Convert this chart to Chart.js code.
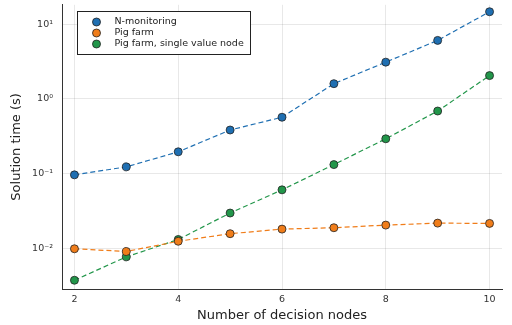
<!DOCTYPE html>
<html>
<head>
<meta charset="utf-8">
<script src="https://cdn.jsdelivr.net/npm/chart.js@4/dist/chart.umd.min.js"></script>
<style>
  html, body { margin: 0; padding: 0; background: #fff; }
  #wrap { width: 512px; height: 325px; }
</style>
</head>
<body>
<div id="wrap"><canvas id="c" width="512" height="325"></canvas></div>
<script>
// Number of decision nodes
const nodes = [2, 3, 4, 5, 6, 7, 8, 9, 10];
// Solution times in seconds
const nMonitoring = [0.097, 0.124, 0.197, 0.385, 0.57, 1.6, 3.1, 6.05, 14.6];
const pigFarm = [0.0100, 0.0092, 0.0126, 0.0159, 0.0183, 0.0191, 0.0207, 0.0220, 0.0218];
const pigFarmSingle = [0.0038, 0.0078, 0.0133, 0.0300, 0.0612, 0.133, 0.294, 0.69, 2.05];
const seriesNames = ['N-monitoring', 'Pig farm', 'Pig farm, single value node'];
const xTicks = [2, 4, 6, 8, 10];
const yTicks = [0.01, 0.1, 1, 10];
const yTickLabels = ['10\u207B\u00B2', '10\u207B\u00B9', '10\u2070', '10\u00B9'];

const colors = ['#1f6fb2', '#f07d1a', '#22964a'];
const FONT = "'DejaVu Sans', sans-serif";

function toPoints(ys) { return nodes.map((x, i) => ({ x: x, y: ys[i] })); }

function makeSet(label, ys, color) {
  return {
    label: label,
    data: toPoints(ys),
    borderColor: color,
    backgroundColor: color,
    borderWidth: 1.2,
    borderDash: [5, 3],
    pointRadius: 4,
    pointBorderWidth: 0.8,
    pointBorderColor: '#222',
    pointBackgroundColor: color,
    tension: 0,
    fill: false
  };
}

// Boxed legend in the top-left of the plot area
const boxLegend = {
  id: 'boxLegend',
  afterDraw(chart) {
    const ctx = chart.ctx;
    const x0 = 77.5, y0 = 11.5, w = 173, h = 43;
    ctx.save();
    ctx.fillStyle = '#fff';
    ctx.fillRect(x0, y0, w, h);
    ctx.strokeStyle = '#222';
    ctx.lineWidth = 1;
    ctx.strokeRect(x0, y0, w, h);
    ctx.font = '9.5px ' + FONT;
    ctx.textBaseline = 'middle';
    chart.data.datasets.forEach((ds, i) => {
      const cy = y0 + 10.5 + i * 11;
      ctx.beginPath();
      ctx.arc(x0 + 19, cy, 4, 0, Math.PI * 2);
      ctx.fillStyle = ds.backgroundColor;
      ctx.fill();
      ctx.lineWidth = 0.8;
      ctx.strokeStyle = '#222';
      ctx.stroke();
      ctx.fillStyle = '#222';
      ctx.fillText(ds.label, x0 + 37, cy);
    });
    ctx.restore();
  }
};

new Chart(document.getElementById('c'), {
  type: 'line',
  data: {
    datasets: [
      makeSet(seriesNames[0], nMonitoring, colors[0]),
      makeSet(seriesNames[1], pigFarm, colors[1]),
      makeSet(seriesNames[2], pigFarmSingle, colors[2])
    ]
  },
  options: {
    responsive: false,
    animation: false,
    layout: { padding: { top: 3, right: 10, left: 0, bottom: 0 } },
    plugins: { legend: { display: false }, tooltip: { enabled: false } },
    scales: {
      x: {
        type: 'linear',
        min: 1.76,
        max: 10.24,
        afterBuildTicks(scale) { scale.ticks = xTicks.map(v => ({ value: v })); },
        afterFit(scale) { scale.height = 36; scale.paddingLeft = 0; scale.paddingRight = 0; },
        grid: { color: 'rgba(0,0,0,0.09)', drawTicks: false },
        border: { color: '#333', width: 1 },
        ticks: {
          padding: 5,
          color: '#333',
          font: { family: FONT, size: 9.5 },
          maxRotation: 0
        },
        title: {
          display: true,
          text: 'Number of decision nodes',
          color: '#222',
          font: { family: FONT, size: 13 },
          padding: { top: 0, bottom: 2 }
        }
      },
      y: {
        type: 'logarithmic',
        min: Math.pow(10, -2.537),
        max: Math.pow(10, 1.257),
        afterBuildTicks(scale) { scale.ticks = yTicks.map(v => ({ value: v })); },
        afterFit(scale) { scale.width = 62; scale.paddingTop = 0; scale.paddingBottom = 0; },
        grid: { color: 'rgba(0,0,0,0.09)', drawTicks: false },
        border: { color: '#333', width: 1 },
        ticks: {
          padding: 9,
          color: '#333',
          font: { family: FONT, size: 9.5 },
          callback(value) {
            const i = yTicks.indexOf(value);
            return i >= 0 ? yTickLabels[i] : '';
          }
        },
        title: {
          display: true,
          text: 'Solution time (s)',
          color: '#222',
          font: { family: FONT, size: 13 },
          padding: { top: 9, bottom: 0 }
        }
      }
    }
  },
  plugins: [boxLegend]
});
</script>
</body>
</html>
